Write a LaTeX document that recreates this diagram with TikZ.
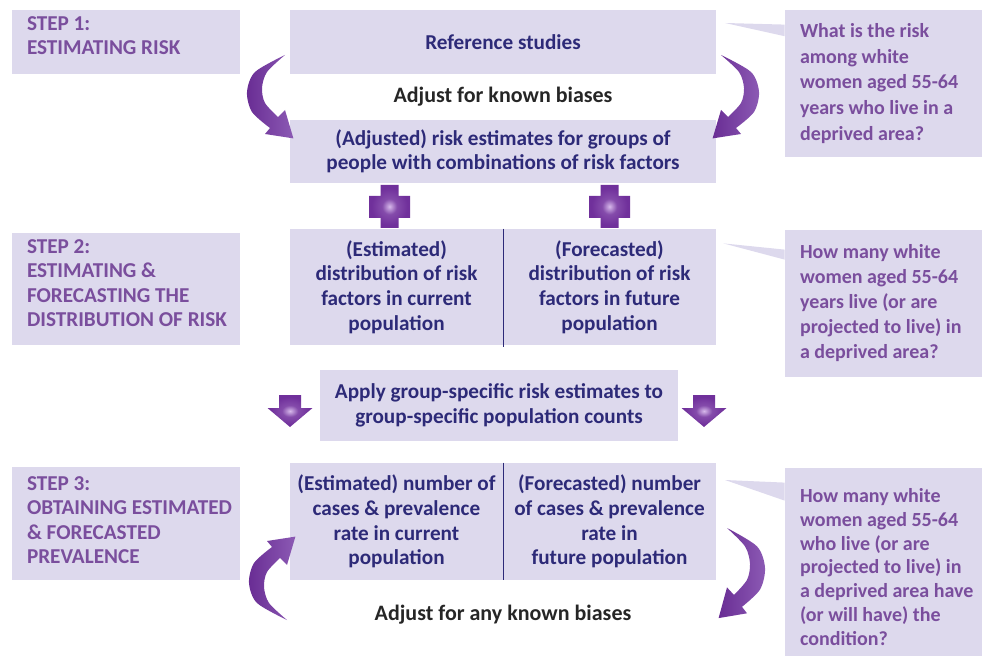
\documentclass[tikz,border=0pt]{standalone}
\usepackage{fontspec}
\setmainfont{Carlito}
\usetikzlibrary{calc}

\definecolor{boxfill}{RGB}{221,217,237}
\definecolor{navy}{RGB}{45,42,120}
\definecolor{steptext}{RGB}{122,78,157}
\definecolor{arrowdark}{RGB}{105,45,148}
\definecolor{arrowmid}{RGB}{140,90,180}
\definecolor{arrowlight}{RGB}{225,215,238}
\definecolor{crossfill}{RGB}{112,48,155}
\definecolor{crosslight}{RGB}{215,185,235}

\pgfdeclareradialshading{crossglow}{\pgfpoint{0bp}{0bp}}{%
  color(0bp)=(crosslight); color(9bp)=(crossfill!80!crosslight);
  color(22bp)=(crossfill); color(50bp)=(crossfill)}

\begin{document}
\begin{tikzpicture}[x=1pt,y=-1pt,
    box/.style={fill=boxfill,text=navy,font=\bfseries\fontsize{10.6}{12.3}\selectfont,
      align=center,inner sep=0pt},
    stepbox/.style={fill=boxfill,minimum width=114pt,minimum height=#1,inner sep=0pt},
    steplabel/.style={text=steptext,font=\bfseries\fontsize{10.6}{12.2}\selectfont,
      align=left,inner sep=0pt,anchor=west},
    bubble/.style={fill=boxfill,minimum width=98.5pt,minimum height=#1,inner sep=0pt},
    qtext/.style={text=steptext,font=\bfseries\fontsize{10}{#1}\selectfont,
      align=left,inner sep=0pt,anchor=west},
    biaslabel/.style={text=black!85,font=\bfseries\fontsize{11}{12}\selectfont}]
  \useasboundingbox (0,0) rectangle (492,328.5);

  % step labels
  \node[stepbox=32pt] (step1) at (63,21) {};
  \node[stepbox=56pt] (step2) at (63,144.5) {};
  \node[stepbox=56.5pt] (step3) at (63,261.75) {};
  \node[steplabel] (step1txt) at ([xshift=7.5pt,yshift=3.25pt]step1.west)
    {STEP 1:\\ESTIMATING RISK};
  \node[steplabel] (step2txt) at ([xshift=7.5pt,yshift=3pt]step2.west)
    {STEP 2:\\ESTIMATING \&\\FORECASTING THE\\DISTRIBUTION OF RISK};
  \node[steplabel] (step3txt) at ([xshift=7.5pt,yshift=1.75pt]step3.west)
    {STEP 3:\\OBTAINING ESTIMATED\\\& FORECASTED\\PREVALENCE};

  % middle column
  \node[box,minimum width=213pt,minimum height=32pt] (ref) at (251.5,21) {Reference studies};
  \node[biaslabel] (bias1) at (251.5,48.5) {Adjust for known biases};
  \node[box,minimum width=213pt,minimum height=31.5pt] (adj) at (251.5,75.75)
    {(Adjusted) risk estimates for groups of\\people with combinations of risk factors};

  \node[box,minimum width=106.5pt,minimum height=58pt] (distcur) at (198.25,143.5)
    {(Estimated)\\distribution of risk\\factors in current\\population};
  \node[box,minimum width=106.5pt,minimum height=58pt] (distfut) at (304.75,143.5)
    {(Forecasted)\\distribution of risk\\factors in future\\population};
  \draw[navy,line width=0.6pt] (distcur.north east) -- ([yshift=-1pt]distcur.south east);

  \node[box,minimum width=179pt,minimum height=35.5pt] (apply) at (249.5,202.75)
    {Apply group-specific risk estimates to\\group-specific population counts};

  \node[box,minimum width=106.5pt,minimum height=58.5pt] (casecur) at (198.25,260.75)
    {(Estimated) number of\\cases \& prevalence\\rate in current\\population};
  \node[box,minimum width=106.5pt,minimum height=58.5pt] (casefut) at (304.75,260.75)
    {(Forecasted) number\\of cases \& prevalence\\rate in\\future population};
  \draw[navy,line width=0.6pt] (casecur.north east) -- (casecur.south east);
  \node[biaslabel] (bias2) at (251.5,307.5) {Adjust for any known biases};

  % questions
  \node[bubble=73.5pt] (q1) at (441.75,41.75) {};
  \node[bubble=73.5pt] (q2) at (441.75,151.75) {};
  \node[bubble=94pt] (q3) at (441.75,281) {};
  \node[qtext=12.8] (q1txt) at ([xshift=7.5pt]q1.west)
    {What is the risk\\among white\\women aged 55-64\\years who live in a\\deprived area?};
  \node[qtext=12.5] (q2txt) at ([xshift=7.5pt]q2.west)
    {How many white\\women aged 55-64\\years live (or are\\projected to live) in\\a deprived area?};
  \node[qtext=11.9] (q3txt) at ([xshift=7.5pt,yshift=-2.5pt]q3.west)
    {How many white\\women aged 55-64\\who live (or are\\projected to live) in\\a deprived area have\\(or will have) the\\condition?};

  \coordinate (t1) at (362.5,11.5);
  \coordinate (t2) at (361.7,121.7);
  \coordinate (t3) at (362.5,240);
  \fill[boxfill] (t1) -- ([yshift=-7.5pt]q1.north west) -- ([yshift=-13.3pt]q1.north west) -- cycle;
  \fill[boxfill] (t2) -- ([yshift=-10pt]q2.north west) -- ([yshift=-15pt]q2.north west) -- cycle;
  \fill[boxfill] (t3) -- ([yshift=-7.5pt]q3.north west) -- ([yshift=-16.5pt]q3.north west) -- cycle;

  % plus signs
  \foreach \x in {194.75,304.75} {
    \shade[shading=crossglow]
      (\x-4.5,92.5) -- (\x+4.5,92.5) -- (\x+4.5,98) -- (\x+10.25,98) -- (\x+10.25,109)
      -- (\x+4.5,109) -- (\x+4.5,114) -- (\x-4.5,114) -- (\x-4.5,109) -- (\x-10.25,109)
      -- (\x-10.25,98) -- (\x-4.5,98) -- cycle;
  }

  % block arrows beside the apply box
  \foreach \x in {145,352} {
    \shade[shading=crossglow]
      (\x-5.5,197.5) -- (\x+5.5,197.5) -- (\x+5.5,204) -- (\x+11.25,204) -- (\x,213.5)
      -- (\x-11.25,204) -- (\x-5.5,204) -- cycle;
  }

  % bent arrows
  \foreach \tx/\ty/\sx/\sy in {142.5/27.5/1/1, 360.5/27.5/-1/1, 143.5/310/1/-1, 363.5/264/-1/1.08} {
    \shade[left color=arrowdark,middle color=arrowlight,right color=arrowmid,
        shift={(\tx,\ty)},xscale=\sx,yscale=\sy]
      plot[smooth] coordinates {(0,0) (-15,8.5) (-19,18.5) (-16.5,28.5) (-7.5,36.5)}
      -- (-10,39.5) -- (4.2,41.7) -- (0,27.5)
      -- plot[smooth] coordinates {(-3.5,31) (-10,24) (-11.5,16.5) (-9,8.5) (0,0)} -- cycle;
  }
\end{tikzpicture}
\end{document}
